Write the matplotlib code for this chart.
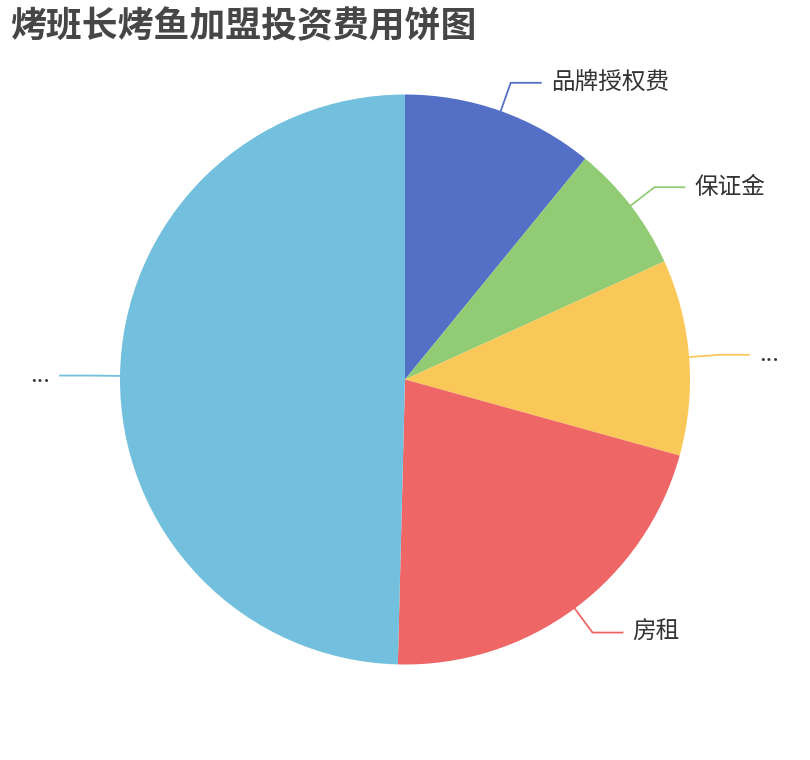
import matplotlib.pyplot as plt
import numpy as np

plt.rcParams['font.family'] = ['Noto Sans CJK SC', 'DejaVu Sans']

names = ['品牌授权费', '保证金', '...', '房租', '...']
values = [10.9, 7.3, 11.1, 21.1, 49.6]
colors = ['#5470c6', '#91cc75', '#fac858', '#ee6666', '#73c0de']
title = '烤班长烤鱼加盟投资费用饼图'

W, H = 810, 760
fig = plt.figure(figsize=(W / 100, H / 100), dpi=100)
ax = fig.add_axes([0, 0, 1, 1])

cx, cy, r = 405, H - 379.5, 285
ax.pie(values, colors=colors, startangle=90, counterclock=False,
       center=(cx, cy), radius=r, wedgeprops=dict(linewidth=0))
ax.set_xlim(0, W)
ax.set_ylim(0, H)
ax.set_aspect('auto')
ax.axis('off')

# leader lines, echarts style: radial piece then horizontal piece
tot = float(sum(values))
start = 0.0
for name, v, col in zip(names, values, colors):
    mid = np.deg2rad((start + v / 2) / tot * 360)
    start += v
    dx, dy = np.sin(mid), np.cos(mid)
    p0 = (cx + r * dx, cy + r * dy)
    p1 = (cx + (r + 30) * dx, cy + (r + 30) * dy)
    side = 1 if dx >= 0 else -1
    p2 = (p1[0] + side * 30, p1[1])
    ax.plot([p0[0], p1[0], p2[0]], [p0[1], p1[1], p2[1]], color=col, lw=1.3,
            solid_joinstyle='miter')
    ax.text(p2[0] + side * 10, p2[1], name, ha='left' if side > 0 else 'right',
            va='center', fontsize=17, color='#333333')

fig.text(10 / W, 1 - 8 / H, title, ha='left', va='top', fontsize=25.8,
         fontweight='bold', color='#464646')

fig.savefig('out.png', dpi=100)
